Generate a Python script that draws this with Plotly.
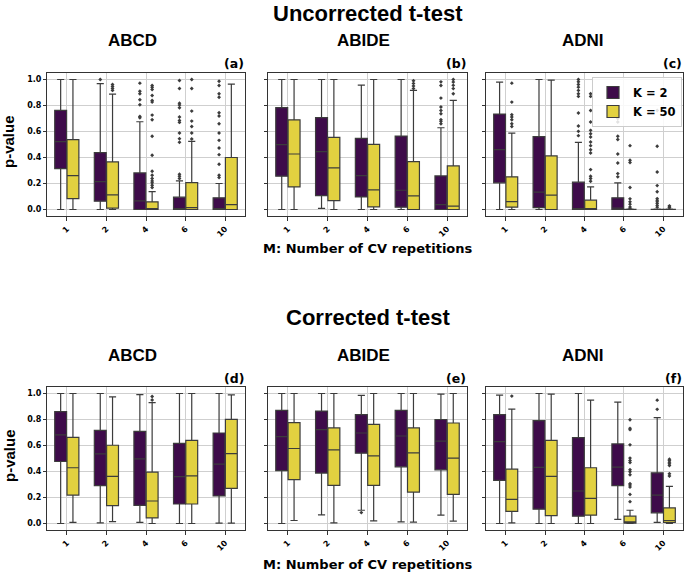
import plotly.graph_objects as go
import numpy as np

# ---------------- data ----------------
M_LABELS = ["1", "2", "4", "6", "10"]
K_NAMES = ["K = 2", "K = 50"]
ROW_TITLES = ["Uncorrected t-test", "Corrected t-test"]
DATASETS = ["ABCD", "ABIDE", "ADNI"]
PANEL_TAGS = ["(a)", "(b)", "(c)", "(d)", "(e)", "(f)"]

# each entry: [lower whisker, Q1, median, Q3, upper whisker] per M
ABCD_UNC_K2 = [[0.0, 0.315, 0.522, 0.762, 1.0], [0.0, 0.064, 0.215, 0.437, 0.969],
               [0.0, 0.0, 0.066, 0.281, 0.675], [0.0, 0.0, 0.005, 0.095, 0.22],
               [0.0, 0.0, 0.005, 0.09, 0.2]]
ABCD_UNC_K50 = [[0.0, 0.084, 0.261, 0.537, 1.0], [0.0, 0.01, 0.113, 0.366, 0.887],
                [0.0, 0.0, 0.005, 0.059, 0.138], [0.0, 0.0, 0.015, 0.207, 0.524],
                [0.0, 0.0, 0.038, 0.40, 0.964]]
ABIDE_UNC_K2 = [[0.0, 0.256, 0.499, 0.783, 1.0], [0.008, 0.107, 0.445, 0.706, 1.0],
                [0.0, 0.097, 0.261, 0.547, 0.956], [0.0, 0.018, 0.148, 0.565, 1.0],
                [0.0, 0.0, 0.038, 0.258, 0.629]]
ABIDE_UNC_K50 = [[0.0, 0.174, 0.427, 0.69, 1.0], [0.0, 0.069, 0.32, 0.555, 1.0],
                 [0.0, 0.02, 0.151, 0.501, 1.0], [0.0, 0.0, 0.105, 0.368, 0.916],
                 [0.0, 0.0, 0.026, 0.335, 0.839]]
ADNI_UNC_K2 = [[0.0, 0.205, 0.46, 0.734, 0.98], [0.0, 0.015, 0.133, 0.56, 1.0],
               [0.0, 0.0, 0.005, 0.21, 0.517], [0.0, 0.0, 0.01, 0.09, 0.205],
               [0.0, 0.0, 0.0, 0.002, 0.004]]
ADNI_UNC_K50 = [[0.0, 0.018, 0.061, 0.251, 0.588], [0.0, 0.0, 0.11, 0.412, 0.995],
                [0.0, 0.0, 0.005, 0.072, 0.174], [0.0, 0.0, 0.0, 0.002, 0.004],
                [0.0, 0.0, 0.0, 0.002, 0.004]]
ABCD_COR_K2 = [[0.0, 0.477, 0.681, 0.86, 1.0], [0.005, 0.291, 0.536, 0.717, 1.0],
               [0.008, 0.14, 0.497, 0.709, 0.992], [0.0, 0.15, 0.36, 0.617, 1.0],
               [0.003, 0.212, 0.457, 0.696, 1.0]]
ABCD_COR_K50 = [[0.008, 0.219, 0.429, 0.663, 1.0], [0.015, 0.138, 0.362, 0.602, 0.974],
                [0.0, 0.043, 0.173, 0.395, 0.93], [0.0, 0.15, 0.367, 0.64, 1.0],
                [0.003, 0.27, 0.538, 0.801, 0.99]]
ABIDE_COR_K2 = [[0.0, 0.406, 0.668, 0.87, 1.0], [0.066, 0.388, 0.722, 0.865, 1.0],
                [0.102, 0.541, 0.696, 0.837, 0.985], [0.013, 0.436, 0.673, 0.87, 1.0],
                [0.064, 0.413, 0.633, 0.80, 0.995]]
ABIDE_COR_K50 = [[0.023, 0.337, 0.577, 0.776, 1.0], [0.005, 0.293, 0.566, 0.735, 1.0],
                 [0.02, 0.293, 0.52, 0.763, 1.0], [0.01, 0.242, 0.543, 0.735, 1.0],
                 [0.018, 0.224, 0.503, 0.773, 1.0]]
ADNI_COR_K2 = [[0.0, 0.332, 0.63, 0.837, 0.987], [0.0, 0.11, 0.431, 0.791, 1.0],
               [0.0, 0.056, 0.25, 0.661, 1.0], [0.031, 0.291, 0.434, 0.612, 0.934],
               [0.008, 0.082, 0.219, 0.39, 0.814]]
ADNI_COR_K50 = [[0.005, 0.094, 0.186, 0.418, 0.88], [0.0, 0.061, 0.362, 0.64, 0.995],
                [0.0, 0.064, 0.194, 0.429, 0.949], [0.0, 0.003, 0.013, 0.056, 0.102],
                [0.0, 0.008, 0.023, 0.12, 0.286]]

# outliers per M
ABCD_UNC_K2_OUT = [[], [1.0],
                   [0.972, 0.91, 0.89, 0.844, 0.806, 0.716, 0.706],
                   [0.992, 0.931, 0.818, 0.803, 0.783, 0.711, 0.685, 0.67, 0.588, 0.545, 0.517, 0.271, 0.256, 0.238],
                   [0.987, 0.954, 0.89, 0.864, 0.744, 0.719, 0.66, 0.588, 0.532, 0.473, 0.422, 0.348, 0.263, 0.246]]
ABCD_UNC_K50_OUT = [[], [0.962, 0.946, 0.931, 0.916],
                    [0.954, 0.94, 0.923, 0.877, 0.839, 0.826, 0.726, 0.69, 0.563, 0.417, 0.294, 0.263, 0.238, 0.22, 0.205, 0.187, 0.169],
                    [1.0, 0.931, 0.757, 0.68, 0.639, 0.588, 0.542],
                    []]
ABIDE_UNC_K2_OUT = [[], [], [], [],
                    [0.982, 0.954, 0.857, 0.788, 0.762, 0.737, 0.69, 0.678, 0.66]]
ABIDE_UNC_K50_OUT = [[], [], [],
                     [0.99, 0.97, 0.95, 0.93],
                     [1.0, 0.98, 0.955, 0.93, 0.89]]
ADNI_UNC_K2_OUT = [[], [],
                   [1.0, 0.982, 0.962, 0.941, 0.916, 0.89, 0.87, 0.742, 0.642, 0.601, 0.568],
                   [0.762, 0.70, 0.673, 0.563, 0.538, 0.427, 0.358, 0.276, 0.251],
                   [0.762, 0.486, 0.289, 0.184, 0.136, 0.084, 0.072, 0.059, 0.046, 0.031, 0.018]]
ADNI_UNC_K50_OUT = [[0.972, 0.826, 0.729, 0.711, 0.69, 0.66, 0.639], [],
                    [0.89, 0.87, 0.762, 0.673, 0.609, 0.583, 0.558, 0.519, 0.491, 0.46, 0.435, 0.307, 0.256, 0.238, 0.217],
                    [0.491, 0.379, 0.361, 0.169, 0.082, 0.059, 0.041, 0.02, 0.01],
                    [0.028, 0.02, 0.013]]
ABCD_COR_K2_OUT = [[], [], [], [], []]
ABCD_COR_K50_OUT = [[], [], [0.977, 0.95], [], []]
ABIDE_COR_K2_OUT = [[], [], [0.084], [], []]
ABIDE_COR_K50_OUT = [[], [], [], [], []]
ADNI_COR_K2_OUT = [[], [], [], [], [0.949, 0.878]]
ADNI_COR_K50_OUT = [[0.98], [], [],
                    [0.798, 0.732, 0.722, 0.605, 0.503, 0.485, 0.469, 0.413, 0.398, 0.375, 0.306, 0.296, 0.281, 0.224, 0.168],
                    [0.495, 0.485, 0.472, 0.459, 0.446, 0.383, 0.365]]

PANEL_STATS = [
    (ABCD_UNC_K2, ABCD_UNC_K50, ABCD_UNC_K2_OUT, ABCD_UNC_K50_OUT),
    (ABIDE_UNC_K2, ABIDE_UNC_K50, ABIDE_UNC_K2_OUT, ABIDE_UNC_K50_OUT),
    (ADNI_UNC_K2, ADNI_UNC_K50, ADNI_UNC_K2_OUT, ADNI_UNC_K50_OUT),
    (ABCD_COR_K2, ABCD_COR_K50, ABCD_COR_K2_OUT, ABCD_COR_K50_OUT),
    (ABIDE_COR_K2, ABIDE_COR_K50, ABIDE_COR_K2_OUT, ABIDE_COR_K50_OUT),
    (ADNI_COR_K2, ADNI_COR_K50, ADNI_COR_K2_OUT, ADNI_COR_K50_OUT),
]

# ---------------- style ----------------
W, H = 685, 574
COLORS = ["#3e0b4a", "#e2d140"]
EDGE = "#3c3c3c"
GRID = "#cfcfcf"
FRAME = "#333333"
DV = "DejaVu Sans"
AR = "Liberation Sans"
OFFSET = 0.155
BOXW = 0.30

X_PX = [(47, 245), (268, 467), (486, 683)]
Y_PX = [(73, 216), (387, 530)]


def px_x(p):
    return p / W


def px_y(p):
    return 1 - p / H


fig = go.Figure()
layout = {}
idx = np.arange(len(M_LABELS))

for pi, (s2, s50, o2, o50) in enumerate(PANEL_STATS):
    row, col = divmod(pi, 3)
    ax = pi + 1
    xa, ya = f"x{ax}", f"y{ax}"
    for ki, (stats, outs) in enumerate([(s2, o2), (s50, o50)]):
        pos = idx + (-OFFSET if ki == 0 else OFFSET)
        arr = np.array(stats)
        fig.add_trace(go.Box(
            x=pos, lowerfence=arr[:, 0], q1=arr[:, 1], median=arr[:, 2],
            q3=arr[:, 3], upperfence=arr[:, 4], width=BOXW,
            fillcolor=COLORS[ki], line=dict(color=EDGE, width=1.2),
            whiskerwidth=0.6, boxpoints=False, name=K_NAMES[ki],
            legendgroup=K_NAMES[ki], showlegend=(pi == 0),
            xaxis=xa, yaxis=ya, hoverinfo="skip"))
        ox, oy = [], []
        for mi, vals in enumerate(outs):
            ox += [pos[mi]] * len(vals)
            oy += list(vals)
        if ox:
            fig.add_trace(go.Scatter(
                x=ox, y=oy, mode="markers",
                marker=dict(symbol="diamond", size=3, color=EDGE),
                showlegend=False, xaxis=xa, yaxis=ya, hoverinfo="skip"))

    x0, x1 = X_PX[col]
    y0, y1 = Y_PX[row]
    sfx = "" if ax == 1 else str(ax)
    layout["xaxis" + sfx] = dict(
        domain=[px_x(x0), px_x(x1)], anchor=ya, range=[-0.5, 4.5],
        tickvals=list(idx), ticktext=M_LABELS, tickangle=-45,
        showgrid=True, gridcolor=GRID, gridwidth=1, zeroline=False,
        showline=True, mirror=True, linecolor=FRAME, linewidth=1.2,
        ticks="outside", ticklen=4, tickcolor=FRAME,
        tickfont=dict(family=DV, size=8, color="black", weight="bold"))
    layout["yaxis" + sfx] = dict(
        domain=[px_y(y1), px_y(y0)], anchor=xa, range=[-0.05, 1.05],
        tickvals=[0, 0.2, 0.4, 0.6, 0.8, 1.0],
        ticktext=["0.0", "0.2", "0.4", "0.6", "0.8", "1.0"],
        showticklabels=(col == 0),
        showgrid=True, gridcolor=GRID, gridwidth=1, zeroline=False,
        showline=True, mirror=True, linecolor=FRAME, linewidth=1.2,
        ticks="outside", ticklen=3, tickcolor=FRAME,
        tickfont=dict(family=DV, size=8, color="black", weight="bold"))

annotations = []
ROW_SHIFT = [0, 314]
TITLE_Y = [13, 317]
SUB_X = [132.5, 363, 583]
for r in range(2):
    annotations.append(dict(text=ROW_TITLES[r], x=px_x(368), y=px_y(TITLE_Y[r]),
                            xref="paper", yref="paper", showarrow=False,
                            xanchor="center", yanchor="middle",
                            font=dict(family=AR, size=22, color="black", weight="bold")))
    for c in range(3):
        annotations.append(dict(text=DATASETS[c], x=px_x(SUB_X[c]), y=px_y(41 + ROW_SHIFT[r]),
                                xref="paper", yref="paper", showarrow=False,
                                xanchor="center", yanchor="middle",
                                font=dict(family=AR, size=17, color="black", weight="bold")))
        annotations.append(dict(text=PANEL_TAGS[r * 3 + c], x=px_x(X_PX[c][1] + 1),
                                y=px_y(64 + ROW_SHIFT[r]),
                                xref="paper", yref="paper", showarrow=False,
                                xanchor="right", yanchor="middle",
                                font=dict(family=DV, size=12.5, color="black", weight="bold")))
    annotations.append(dict(text="p-value", x=px_x(9), y=px_y(142 + ROW_SHIFT[r]),
                            xref="paper", yref="paper", showarrow=False, textangle=-90,
                            xanchor="center", yanchor="middle",
                            font=dict(family=AR, size=15, color="black", weight="bold")))
    annotations.append(dict(text="M: Number of CV repetitions", x=px_x(368),
                            y=px_y(248 + ROW_SHIFT[r] + (2 if r else 0)),
                            xref="paper", yref="paper", showarrow=False,
                            xanchor="center", yanchor="middle",
                            font=dict(family=DV, size=13, color="black", weight="bold")))

fig.update_layout(
    width=W, height=H, margin=dict(l=0, r=0, t=0, b=0),
    paper_bgcolor="white", plot_bgcolor="white",
    boxmode="overlay", annotations=annotations,
    legend=dict(x=px_x(682), y=px_y(77), xanchor="right", yanchor="top",
                bgcolor="rgba(255,255,255,0.85)", bordercolor="#cccccc", borderwidth=1,
                font=dict(family=DV, size=11.5, color="black", weight="bold"),
                tracegroupgap=0),
    **layout)

fig.write_html("out.html")
